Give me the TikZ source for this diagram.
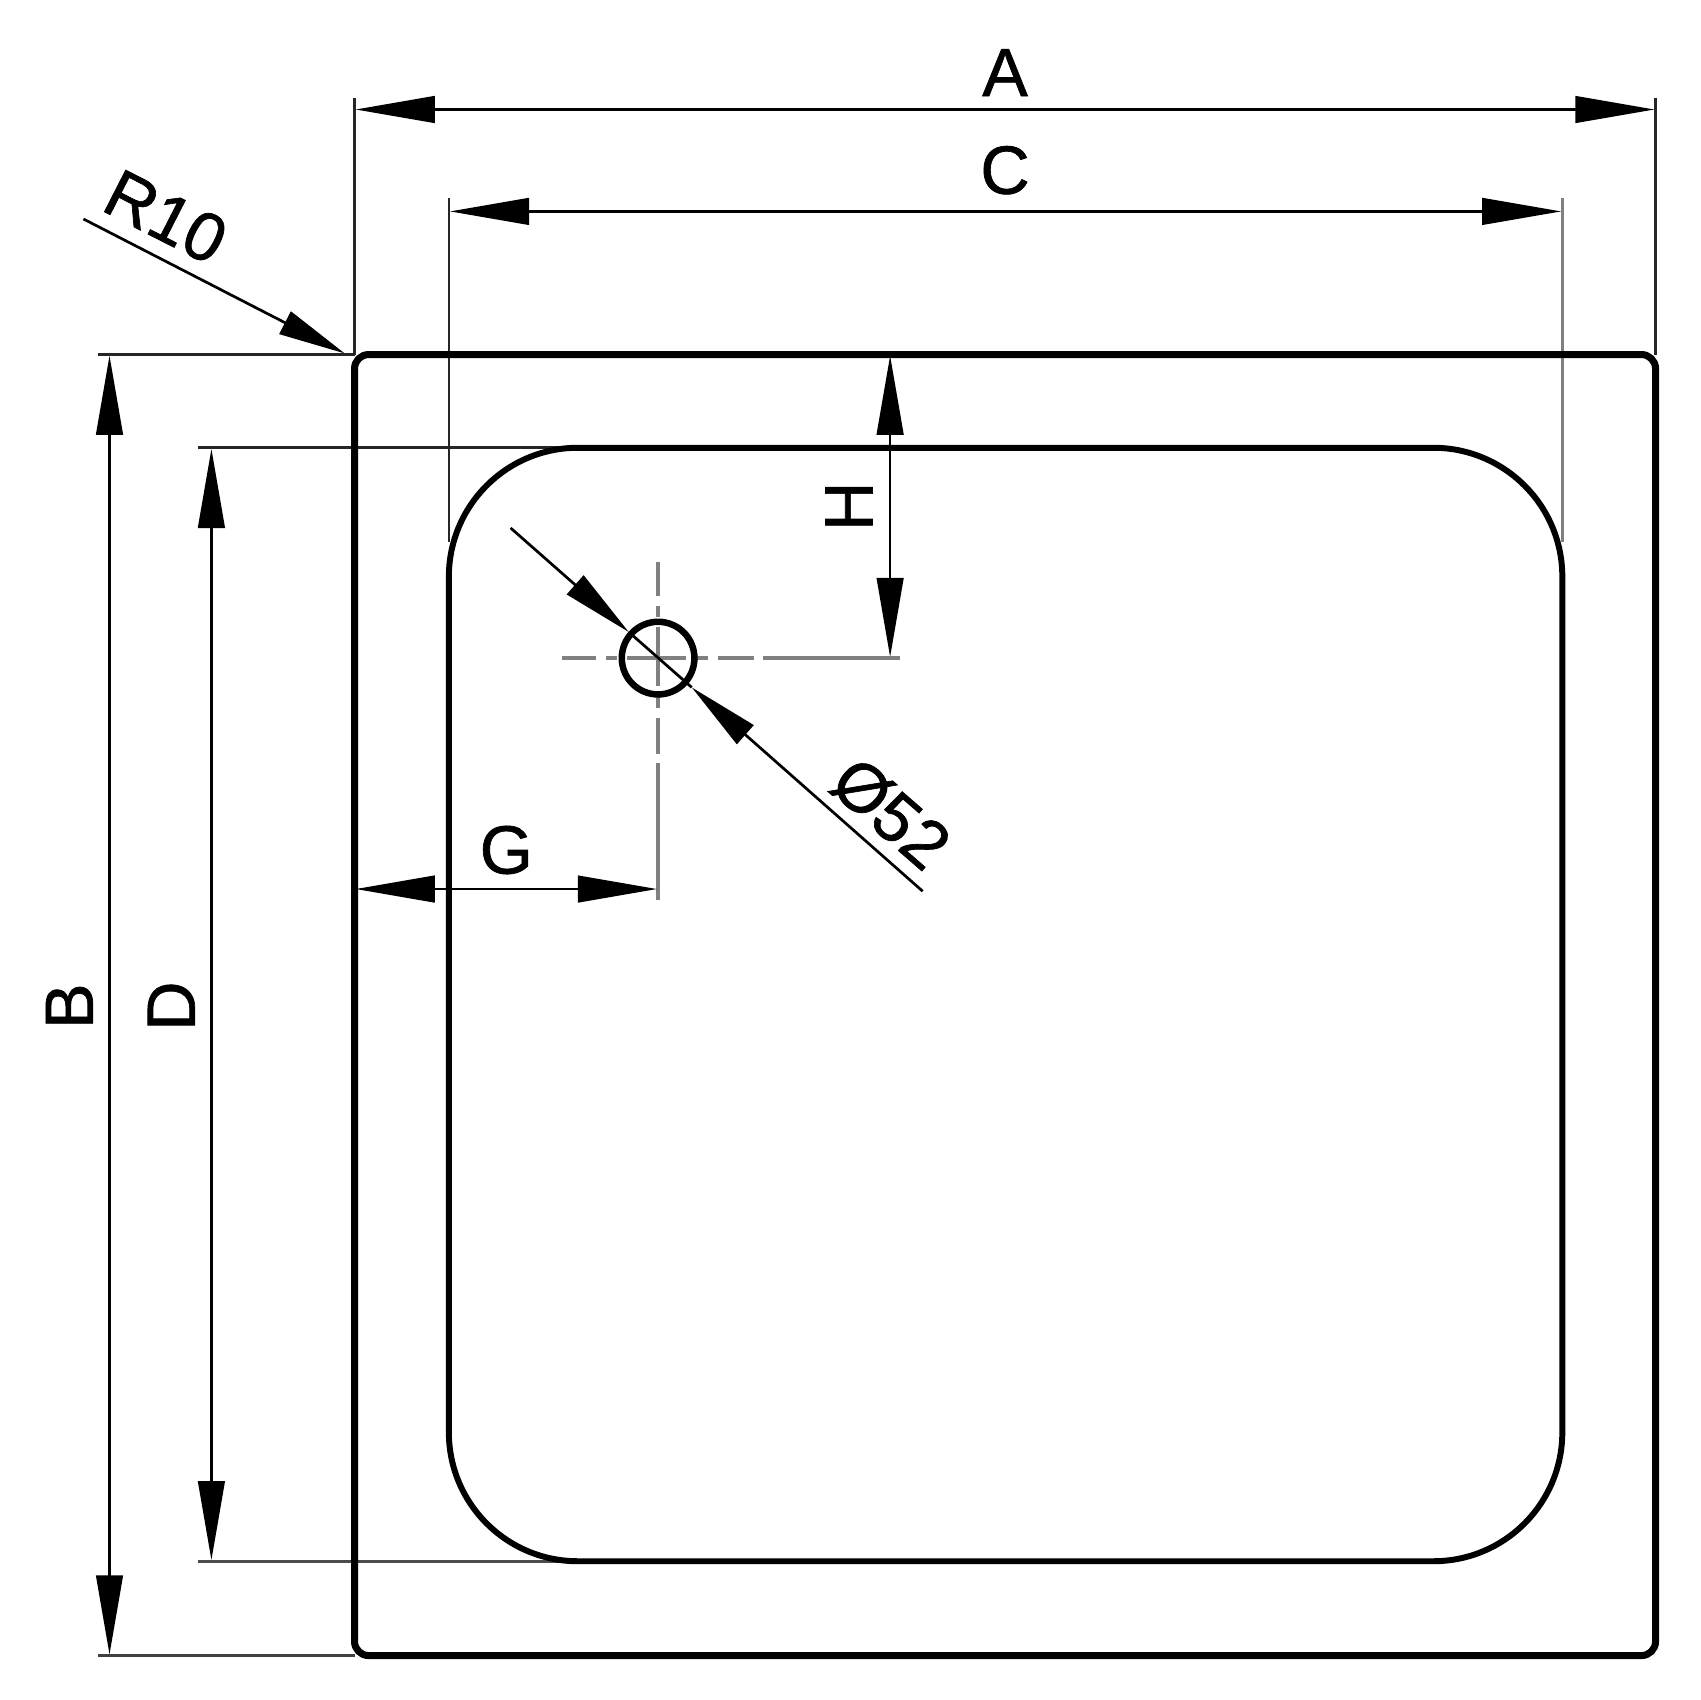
\documentclass[tikz,border=0pt]{standalone}
\usepackage{fontspec}
\setmainfont{Liberation Sans}
\usetikzlibrary{arrows.meta}
\tikzset{
  x=1pt,y=-1pt,
  outline/.style={line width=6.5pt,black,line join=round},
  innerline/.style={line width=5.5pt,black,line join=round},
  extline/.style={line width=2.4pt,black!85},
  greyline/.style={line width=3pt,black!50},
  centerline/.style={line width=3.2pt,black!50},
  dimline/.style={line width=2.5pt,black,{Triangle[length=73pt,width=24.5pt]}-{Triangle[length=73pt,width=24.5pt]}},
  leader/.style={line width=2.5pt,black,-{Triangle[length=66pt,width=23pt]}},
  dimtext/.style={inner sep=0pt,font=\fontsize{63}{70}\selectfont\addfontfeature{FakeBold=1}},
}
\begin{document}
\begin{tikzpicture}
\path[use as bounding box,fill=white] (0,0) rectangle (1568,1568);
% named points
\coordinate (TL) at (327,327);
\coordinate (TR) at (1527,327);
\coordinate (BL) at (327,1527);
\coordinate (BR) at (1527,1527);
\coordinate (c) at (607,607);
% extension lines
\draw[extline] (327,90) -- (TL);
\draw[extline] (1527,90) -- (TR);
\draw[extline] (414,183) -- (414,500);
\draw[greyline] (1441,183) -- (1441,500);
\draw[extline] (90,327) -- (TL);
\draw[extline] (183,413) -- (530,413);
\draw[extline,black!70,line width=2.8pt] (183,1440) -- (530,1440);
\draw[extline,black!75] (90,1527) -- (BL);
% outlines
\draw[outline,rounded corners=13pt] (TL) -- (TR) -- (BR) -- (BL) -- cycle;
\draw[innerline,rounded corners=119pt] (414,413) -- (1441,413) -- (1441,1440) -- (414,1440) -- cycle;
% centre lines
\foreach \a/\b in {518/550,559/569,578/633,642/653,662/695,704/830}{
  \draw[centerline] (\a,607) -- (\b,607);
  \draw[centerline] (607,\a) -- (607,\b);
}
\node[draw,circle,line width=6pt,minimum size=67pt,inner sep=0pt] (hole) at (c) {};
% dimensions
\coordinate (A1) at (328,101); \coordinate (A2) at (1526,101);
\coordinate (C1) at (415,195); \coordinate (C2) at (1440,195);
\coordinate (B1) at (101,328); \coordinate (B2) at (101,1526);
\coordinate (D1) at (195,414); \coordinate (D2) at (195,1439);
\coordinate (G1) at (328,820); \coordinate (G2) at (606,820);
\coordinate (H1) at (821,328); \coordinate (H2) at (821,606);
\draw[dimline] (A1) -- (A2);
\draw[dimline] (C1) -- (C2);
\draw[dimline] (B1) -- (B2);
\draw[dimline] (D1) -- (D2);
\draw[dimline] (G1) -- (G2);
\draw[dimline] (H1) -- (H2);
% leaders
\coordinate (R0) at (77,202); \coordinate (Rt) at (318,326);
\draw[leader,-{Triangle[length=62pt,width=23pt]}] (R0) -- (Rt);
\coordinate (P0) at (471,487); \coordinate (P1) at (851,822);
\coordinate (Pa) at (580,583); \coordinate (Pb) at (638,634);
\draw[leader] (P0) -- (Pa);
\draw[leader] (P1) -- (Pb);
\draw[line width=2.5pt] (Pa) -- (Pb);
% labels
\node[dimtext] (lA) at (927,67) {A};
\node[dimtext] (lC) at (927,157) {C};
\node[dimtext,rotate=90] (lB) at (64,928) {B};
\node[dimtext,rotate=90] (lD) at (158,928) {D};
\node[dimtext] (lG) at (467,784) {G};
\node[dimtext,rotate=90] (lH) at (783,467) {H};
\node[dimtext,rotate=-27] (lR) at (153,200) {R10};
\node[dimtext,rotate=-41] (lP) at (822,750) {Ø52};
\end{tikzpicture}
\end{document}
